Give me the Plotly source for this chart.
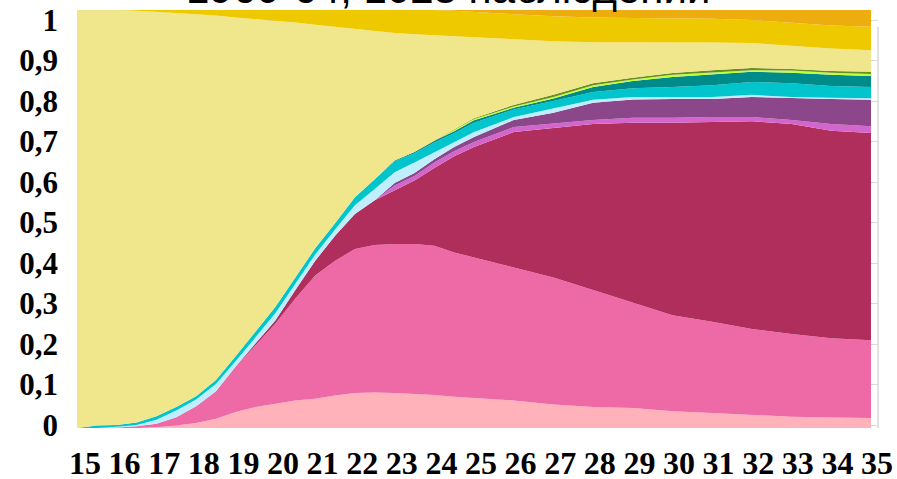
import plotly.graph_objects as go

# age (years), shares of each state, bottom to top of the stack
age = [15, 15.5, 16, 16.5, 17, 17.5, 18, 18.5, 19, 19.5, 20, 20.5, 21, 21.5, 22, 22.5,
       23, 23.5, 24, 24.5, 25, 26, 27, 28, 29, 30, 31, 32, 33, 34, 35]

light_pink = [0, 0, 0, 0, .002, .006, .012, .022, .038, .05, .058, .066, .07, .078, .084, .085,
              .084, .082, .079, .075, .072, .066, .056, .05, .048, .04, .036, .031, .027, .025, .024]
pink = [0, 0, .001, .004, .008, .02, .04, .066, .11, .148, .192, .244, .295, .322, .344, .353,
        .356, .358, .357, .345, .336, .319, .304, .28, .252, .23, .218, .206, .198, .19, .186]
crimson = [0, 0, 0, 0, 0, 0, 0, 0, 0, .005, .008, .02, .035, .06, .084, .107,
           .128, .152, .186, .23, .264, .323, .358, .397, .43, .46, .478, .497, .502, .496, .496]
orchid = [0, 0, 0, 0, 0, 0, 0, 0, 0, 0, 0, 0, 0, 0, 0, 0,
          .012, .011, .013, .012, .012, .012, .01, .01, .012, .012, .012, .01, .01, .016, .016]
purple = [0, 0, 0, 0, 0, 0, 0, 0, 0, 0, 0, 0, 0, 0, 0, 0,
          .006, .007, .008, .01, .012, .017, .026, .041, .044, .045, .043, .048, .052, .06, .063]
light_cyan = [0, 0, .002, .003, .01, .016, .016, .017, .012, .015, .017, .015, .015, .015, .021, .027,
              .026, .025, .017, .013, .012, .007, .011, .007, .006, .005, .005, .005, .003, .003, .004]
cyan = [0, .006, .004, .006, .008, .008, .008, .01, .012, .014, .015, .015, .015, .015, .019, .023,
        .026, .022, .023, .02, .022, .018, .017, .019, .021, .024, .028, .031, .033, .028, .027]
teal = [0, 0, 0, 0, 0, 0, 0, 0, 0, 0, 0, 0, 0, 0, 0, 0,
        .002, .003, .004, .005, .006, .004, .006, .012, .017, .024, .026, .024, .025, .027, .026]
light_green = [0, 0, 0, 0, 0, 0, 0, 0, 0, 0, 0, 0, 0, 0, 0, 0,
               0, 0, 0, .002, .003, .003, .004, .004, .004, .005, .005, .004, .005, .005, .005]
olive = [0, 0, 0, 0, 0, 0, 0, 0, 0, 0, 0, 0, 0, 0, 0, 0,
         0, 0, 0, 0, .002, .004, .005, .005, .004, .004, .005, .005, .004, .004, .005]
khaki = [1, .994, .994, .985, .968, .943, .914, .872, .81, .746, .685, .61, .535, .47, .403, .355,
         .305, .282, .253, .225, .194, .157, .128, .098, .085, .074, .066, .06, .055, .054, .052]
gold = [0, 0, 0, .002, .004, .007, .01, .013, .018, .022, .025, .03, .035, .04, .045, .05,
        .055, .058, .06, .061, .06, .06, .06, .059, .058, .057, .057, .055, .055, .055, .056]
orange = [0, 0, 0, 0, 0, 0, 0, 0, 0, 0, 0, 0, 0, 0, 0, 0,
          0, 0, 0, .002, .005, .01, .015, .018, .019, .02, .021, .024, .031, .037, .04]

layers = [
    (light_pink, "#FFB2BA"), (pink, "#EE6AA7"), (crimson, "#B02E5C"), (orchid, "#D465CC"),
    (purple, "#8B4789"), (light_cyan, "#BFEFFF"), (cyan, "#00C5CD"), (teal, "#008B8B"),
    (light_green, "#C0FF3E"), (olive, "#6B8E23"), (khaki, "#F0E68C"), (gold, "#EEC900"),
    (orange, "#EEAD0E"),
]

age_ticks = list(range(15, 36))
share_ticks = [i / 10 for i in range(11)]
share_text = ["0"] + ["0," + str(i) for i in range(1, 10)] + ["1"]
title = "1960-64, 1028 наблюдений"

fig = go.Figure()
for vals, col in layers:
    fig.add_trace(go.Scatter(x=age, y=vals, mode="lines", stackgroup="one",
                             groupnorm="fraction", line=dict(width=0, color=col),
                             fillcolor=col, showlegend=False, hoverinfo="skip"))

# empty trace that carries the labelled axes
fig.add_trace(go.Scatter(x=[], y=[], xaxis="x2", yaxis="y2", showlegend=False))

x_font = dict(family="Liberation Serif, Times New Roman, serif", size=32,
              color="black", weight="bold")
y_font = dict(family="Liberation Serif, Times New Roman, serif", size=31,
              color="black", weight="bold")

fig.update_layout(
    width=897, height=479,
    margin=dict(l=77, r=19, t=10, b=51),
    paper_bgcolor="white", plot_bgcolor="white",
    xaxis=dict(range=[15, 35.176], visible=False, fixedrange=True, automargin=False),
    yaxis=dict(range=[0, 1], visible=False, fixedrange=True, automargin=False),
    xaxis2=dict(overlaying="x", anchor="y2", side="bottom", range=[14.798, 35.025],
                tickvals=age_ticks, ticktext=[str(a) for a in age_ticks],
                tickfont=x_font, showgrid=False, zeroline=False, showline=False,
                ticks="", ticklabelstandoff=13, automargin=False),
    yaxis2=dict(overlaying="y", anchor="x2", side="left", range=[-0.0074, 1.0247],
                tickvals=share_ticks, ticktext=share_text, tickfont=y_font,
                showgrid=True, gridcolor="#D9D9D9", gridwidth=1, zeroline=False,
                showline=False, ticks="", ticklabelstandoff=18, automargin=False),
    shapes=[dict(type="line", xref="paper", yref="paper", x0=1, x1=1,
                 y0=0, y1=0.96, line=dict(color="#D9D9D9", width=1.5))],
    annotations=[dict(text=title, xref="paper", yref="paper", x=0.463, y=1,
                      xanchor="center", yanchor="bottom", showarrow=False, yshift=-4,
                      font=dict(family="Liberation Sans, Arial, sans-serif",
                                size=42, color="black"))],
)

fig.write_html("out.html", config={"displayModeBar": False},
               post_script="document.body.style.margin = '0';")
